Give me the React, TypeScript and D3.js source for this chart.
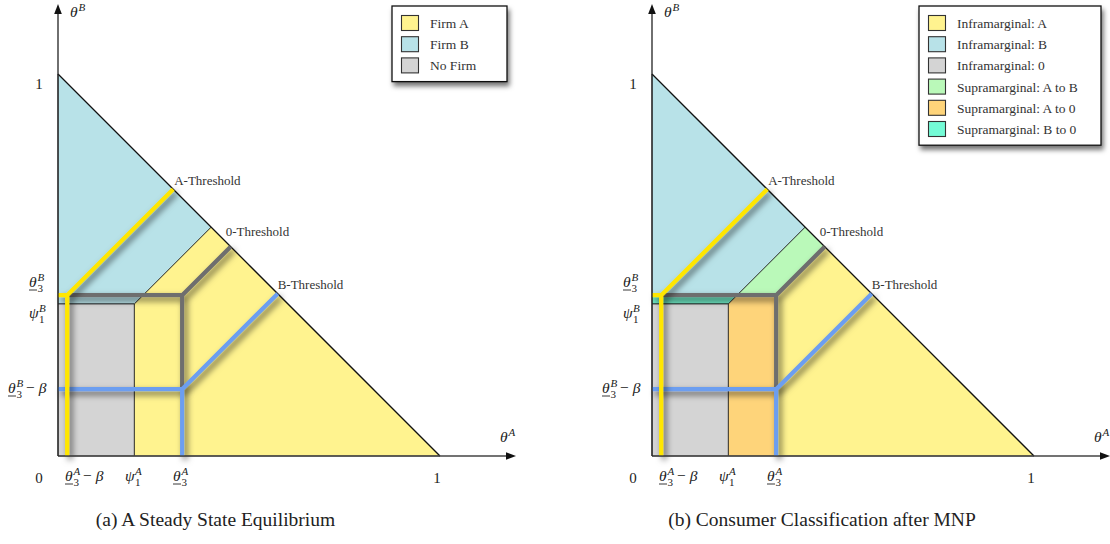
import React from "react";
import * as d3 from "d3";

// Consumer type space (θA, θB) with thresholds
const PSI1_A = 0.2;
const PSI1_B = 0.398;
const THETA3_A = 0.325;
const THETA3_B = 0.421;
const THETA3_A_MINUS_BETA = 0.024;
const THETA3_B_MINUS_BETA = 0.175;

const legendA = [
  { label: "Firm A", color: "#fff38f" },
  { label: "Firm B", color: "#b8e2e8" },
  { label: "No Firm", color: "#d4d4d4" },
];
const legendB = [
  { label: "Inframarginal: A", color: "#fff38f" },
  { label: "Inframarginal: B", color: "#b8e2e8" },
  { label: "Inframarginal: 0", color: "#d4d4d4" },
  { label: "Supramarginal: A to B", color: "#baf9b9" },
  { label: "Supramarginal: A to 0", color: "#fed47a" },
  { label: "Supramarginal: B to 0", color: "#74fbd6" },
];
const captions = ["(a) A Steady State Equilibrium", "(b) Consumer Classification after MNP"];

const C = {
  yellow: "#fff38f",
  blue: "#b8e2e8",
  gray: "#d4d4d4",
  green: "#baf9b9",
  orange: "#fed47a",
  teal: "#6fe8c4",
  lineYellow: "#ffe600",
  lineGray: "#6e6e6e",
  lineBlue: "#6c9ef0",
};

const SIZE = 382;
const FONT = "'Liberation Serif', 'DejaVu Serif', serif";

type P = [number, number];

// point reached by moving at 45° from (a, b) to the budget line θA + θB = 1
const toHyp = (a: number, b: number): P => {
  const t = (1 - a - b) / 2;
  return [a + t, b + t];
};

function MathLabel(props: {
  x: number;
  y: number;
  base: string;
  bw: number;
  sub?: string;
  sup?: string;
  under?: boolean;
  tail?: boolean;
}) {
  const { x, y, base, bw, sub, sup, under, tail } = props;
  return (
    <g fontFamily={FONT} fill="#222">
      <text x={x} y={y} fontSize={15.5} fontStyle="italic">
        {base}
      </text>
      {under && <line x1={x} x2={x + bw} y1={y + 3} y2={y + 3} stroke="#222" strokeWidth={0.9} />}
      {sup && (
        <text x={x + bw + 0.5} y={y - 6.5} fontSize={11} fontStyle="italic">
          {sup}
        </text>
      )}
      {sub && (
        <text x={x + bw + 0.5} y={y + 4.5} fontSize={11}>
          {sub}
        </text>
      )}
      {tail && (
        <text x={x + bw + 10} y={y} fontSize={15.5}>
          {"− "}
          <tspan fontStyle="italic">β</tspan>
        </text>
      )}
    </g>
  );
}

function Panel({ ox, oy, mode }: { ox: number; oy: number; mode: "a" | "b" }) {
  const x = d3.scaleLinear().domain([0, 1]).range([ox, ox + SIZE]);
  const y = d3.scaleLinear().domain([0, 1]).range([oy, oy - SIZE]);
  const line = d3
    .line<P>()
    .x((d) => x(d[0]))
    .y((d) => y(d[1]));
  const poly = (pts: P[]) => line(pts) + "Z";

  const psiHyp = toHyp(PSI1_A, PSI1_B);
  const psiAtT3 = [PSI1_A + (THETA3_B - PSI1_B), THETA3_B] as P;
  const grayHyp = toHyp(THETA3_A, THETA3_B);
  const yellowHyp = toHyp(THETA3_A_MINUS_BETA, THETA3_B);
  const blueHyp = toHyp(THETA3_A, THETA3_B_MINUS_BETA);

  const regions: { pts: P[]; color: string }[] =
    mode === "a"
      ? [
          { pts: [[0, 1], psiHyp, [PSI1_A, PSI1_B], [0, PSI1_B]], color: C.blue },
          { pts: [[0, 0], [0, PSI1_B], [PSI1_A, PSI1_B], [PSI1_A, 0]], color: C.gray },
          { pts: [[PSI1_A, 0], [PSI1_A, PSI1_B], psiHyp, [1, 0]], color: C.yellow },
        ]
      : [
          { pts: [[0, 1], psiHyp, psiAtT3, [0, THETA3_B]], color: C.blue },
          { pts: [[0, THETA3_B], psiAtT3, [PSI1_A, PSI1_B], [0, PSI1_B]], color: C.teal },
          { pts: [[0, 0], [0, PSI1_B], [PSI1_A, PSI1_B], [PSI1_A, 0]], color: C.gray },
          { pts: [psiAtT3, psiHyp, grayHyp, [THETA3_A, THETA3_B]], color: C.green },
          {
            pts: [[PSI1_A, 0], [PSI1_A, PSI1_B], psiAtT3, [THETA3_A, THETA3_B], [THETA3_A, 0]],
            color: C.orange,
          },
          { pts: [[THETA3_A, 0], [THETA3_A, THETA3_B], grayHyp, [1, 0]], color: C.yellow },
        ];

  const grayPath =
    line([[THETA3_A_MINUS_BETA, THETA3_B], [THETA3_A, THETA3_B], [THETA3_A, THETA3_B_MINUS_BETA]]) +
    line([[THETA3_A, THETA3_B], grayHyp]);
  const bluePath =
    line([[0, THETA3_B_MINUS_BETA], [THETA3_A, THETA3_B_MINUS_BETA], [THETA3_A, 0]]) +
    line([[THETA3_A, THETA3_B_MINUS_BETA], blueHyp]);
  const yellowPath =
    line([[0, THETA3_B], [THETA3_A_MINUS_BETA, THETA3_B], [THETA3_A_MINUS_BETA, 0]]) +
    line([[THETA3_A_MINUS_BETA, THETA3_B], yellowHyp]);

  const axisX1 = ox + 458;
  const axisYTop = 4;

  return (
    <g>
      {regions.map((r, i) => (
        <path key={i} d={poly(r.pts)} fill={r.color} stroke="#222" strokeWidth={0.8} />
      ))}
      <path d={line([[0, 1], [1, 0]])!} stroke="#111" strokeWidth={1.3} fill="none" />

      {/* threshold paths */}
      <g fill="none" strokeWidth={4.2} strokeLinejoin="miter">
        <path d={grayPath} stroke={C.lineGray} filter="url(#shadow)" />
        <path d={bluePath} stroke={C.lineBlue} filter="url(#shadow)" />
        <path d={yellowPath} stroke={C.lineYellow} filter="url(#shadow)" />
      </g>

      {/* axes */}
      <line x1={ox} x2={axisX1 - 8} y1={oy} y2={oy} stroke="#444" strokeWidth={1.3} />
      <path d={`M${axisX1},${oy} L${axisX1 - 10},${oy - 3.8} L${axisX1 - 10},${oy + 3.8}Z`} fill="#111" />
      <line x1={ox} x2={ox} y1={oy} y2={axisYTop + 8} stroke="#222" strokeWidth={1.3} />
      <path d={`M${ox},${axisYTop} L${ox - 3.8},${axisYTop + 10} L${ox + 3.8},${axisYTop + 10}Z`} fill="#111" />

      {/* threshold labels */}
      <g fontFamily={FONT} fontSize={13} fill="#333">
        <text x={x(yellowHyp[0]) + 1} y={y(yellowHyp[1]) - 4}>A-Threshold</text>
        <text x={x(grayHyp[0]) - 5} y={y(grayHyp[1]) - 11}>0-Threshold</text>
        <text x={x(blueHyp[0])} y={y(blueHyp[1]) - 5}>B-Threshold</text>
      </g>

      {/* axis titles */}
      <MathLabel x={ox + 12} y={17} base="θ" bw={8} sup="B" />
      <MathLabel x={ox + 442} y={442} base="θ" bw={8} sup="A" />

      {/* plain ticks */}
      <g fontFamily={FONT} fontSize={15} fill="#222" textAnchor="middle">
        <text x={ox - 19} y={89}>1</text>
        <text x={ox - 19} y={483}>0</text>
        <text x={x(1) - 3} y={483}>1</text>
      </g>

      {/* y-axis labels */}
      <MathLabel x={ox - 29} y={287} base="θ" bw={8} sup="B" sub="3" under />
      <MathLabel x={ox - 29} y={318} base="ψ" bw={9.5} sup="B" sub="1" />
      <MathLabel x={ox - 50} y={393} base="θ" bw={8} sup="B" sub="3" under tail />

      {/* x-axis labels */}
      <MathLabel x={ox + 7} y={481} base="θ" bw={8} sup="A" sub="3" under tail />
      <MathLabel x={ox + 67} y={481} base="ψ" bw={9.5} sup="A" sub="1" />
      <MathLabel x={ox + 115} y={481} base="θ" bw={8} sup="A" sub="3" under />
    </g>
  );
}

function Legend({
  x0,
  y0,
  w,
  items,
}: {
  x0: number;
  y0: number;
  w: number;
  items: { label: string; color: string }[];
}) {
  const rowH = 21.2;
  const h = items.length * rowH + 12;
  const rows = d3.range(items.length);
  return (
    <g>
      <rect x={x0} y={y0} width={w} height={h} fill="#fff" stroke="#111" strokeWidth={1.3} filter="url(#boxShadow)" />
      {rows.map((i) => (
        <g key={i}>
          <rect
            x={x0 + 9.5}
            y={y0 + 9.5 + i * rowH}
            width={17}
            height={15}
            fill={items[i].color}
            stroke="#333"
            strokeWidth={1.1}
          />
          <text x={x0 + 38} y={y0 + 22 + i * rowH} fontFamily={FONT} fontSize={13.5} fill="#333">
            {items[i].label}
          </text>
        </g>
      ))}
    </g>
  );
}

export default function App() {
  return (
    <svg
      width={1110}
      height={544}
      style={{ position: "absolute", left: 0, top: 0, background: "#fff" }}
    >
      <defs>
        <filter id="shadow" x="-20%" y="-20%" width="140%" height="140%">
          <feDropShadow dx={3} dy={3.5} stdDeviation={3} floodColor="#000" floodOpacity={0.6} />
        </filter>
        <filter id="boxShadow" x="-20%" y="-20%" width="140%" height="150%">
          <feDropShadow dx={2} dy={4} stdDeviation={2.5} floodColor="#000" floodOpacity={0.55} />
        </filter>
      </defs>
      <rect width={1110} height={544} fill="#fff" />
      <Panel ox={58} oy={456} mode="a" />
      <Panel ox={652} oy={456} mode="b" />
      <Legend x0={392} y0={6} w={115} items={legendA} />
      <Legend x0={919} y0={6} w={182} items={legendB} />
      <g fontFamily={FONT} fontSize={19.5} fill="#222" textAnchor="middle">
        <text x={215.5} y={526}>{captions[0]}</text>
        <text x={822} y={526}>{captions[1]}</text>
      </g>
    </svg>
  );
}
